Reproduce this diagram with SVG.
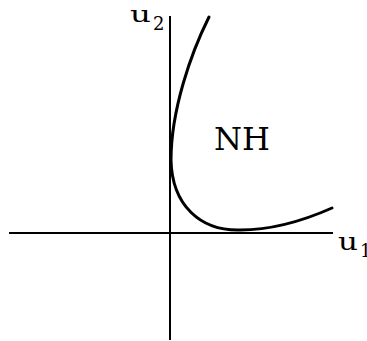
<svg xmlns="http://www.w3.org/2000/svg" width="367" height="341" viewBox="0 0 367 341">
<style>
.ax{stroke:#000;stroke-width:2;fill:none}
.cv{stroke:#000;stroke-width:3;fill:none;stroke-linecap:round}
.t{font-family:"DejaVu Serif",serif;fill:#000}
</style>
<rect width="367" height="341" fill="#fff"/>
<g id="axes">
<line class="ax" x1="170" y1="16" x2="170" y2="340"/>
<line class="ax" x1="9" y1="233" x2="333" y2="233"/>
</g>
<g id="curve">
<path class="cv" d="M209,17 C191,53 171,110 171,160 C172,205 200,231 240,230 C275,230 305,220 332,208"/>
</g>
<g id="labels">
<text class="t" x="130" y="22" font-size="23" textLength="21" lengthAdjust="spacingAndGlyphs">u</text>
<text class="t" x="153" y="30" font-size="18">2</text>
<text class="t" x="214" y="150" font-size="32">NH</text>
<text class="t" x="338" y="250" font-size="25" textLength="20" lengthAdjust="spacingAndGlyphs">u</text>
<text class="t" x="360" y="257" font-size="18">1</text>
</g>
</svg>
